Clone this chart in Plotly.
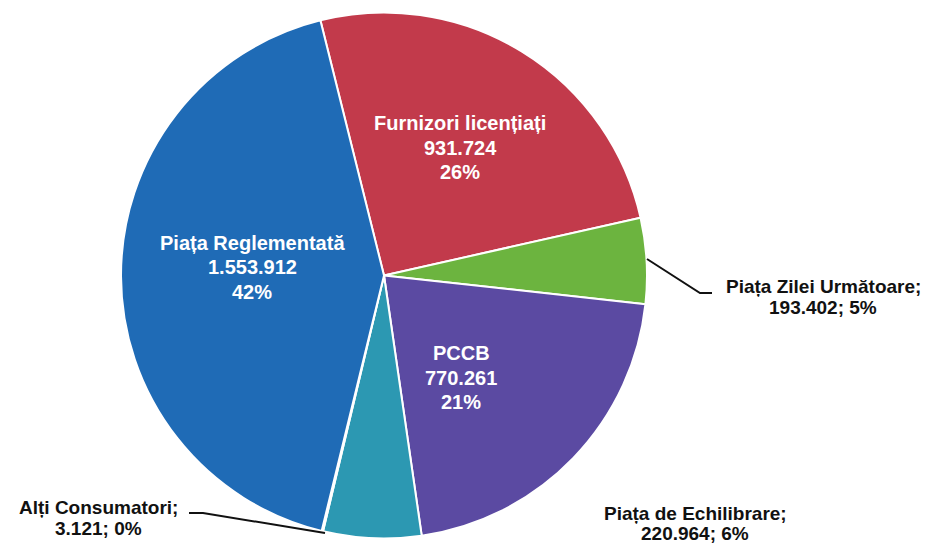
import plotly.graph_objects as go

labels = ["Furnizori licențiați", "Piața Zilei Următoare", "PCCB",
          "Piața de Echilibrare", "Alți Consumatori", "Piața Reglementată"]
values = [931724, 193402, 770261, 220964, 3121, 1553912]
pct_labels = ["26%", "5%", "21%", "6%", "0%", "42%"]
colors = ["#c23a4b", "#6cb43f", "#5b4aa2", "#2c98b2", "#e07a7a", "#1f6bb6"]

def fmt(v):
    return f"{v:,}".replace(",", ".")

val_txt = [fmt(v) for v in values]

FONT = "Liberation Sans, Arial, sans-serif"
W, H = 932, 544
CX, CY, R = 384, 275.5, 263

fig = go.Figure(go.Pie(
    labels=labels, values=values,
    textinfo="none",
    sort=False, direction="clockwise", rotation=-14,
    marker=dict(colors=colors, line=dict(color="white", width=2)),
    domain=dict(x=[(CX - R) / W, (CX + R) / W],
                y=[(H - CY - R) / H, (H - CY + R) / H]),
    showlegend=False, hoverinfo="label+value+percent",
))

def px(x, y):
    return x / W, 1 - y / H

# label layout (pixel positions of each label line centre)
inside_pos = {0: (460, [123, 148, 172]), 2: (461, [353, 378, 402]), 5: (252, [243, 267, 292])}
outside_pos = {1: (823, [286, 307]), 3: (695, [513, 533]), 4: (98, [507, 528])}

for idx, (x, ys) in inside_pos.items():
    lines = [labels[idx], val_txt[idx], pct_labels[idx]]
    for txt, yy in zip(lines, ys):
        xp, yp = px(x, yy)
        fig.add_annotation(x=xp, y=yp, xref="paper", yref="paper", showarrow=False,
                           xanchor="center", yanchor="middle", text=txt,
                           font=dict(family=FONT, size=20, color="white", weight="bold"))

for idx, (x, ys) in outside_pos.items():
    lines = [f"{labels[idx]};", f"{val_txt[idx]}; {pct_labels[idx]}"]
    for txt, yy in zip(lines, ys):
        xp, yp = px(x, yy)
        fig.add_annotation(x=xp, y=yp, xref="paper", yref="paper", showarrow=False,
                           xanchor="center", yanchor="middle", text=txt,
                           font=dict(family=FONT, size=19, color="#111111", weight="bold"))

# leader lines
def path(points):
    pts = [px(x, y) for x, y in points]
    return "M " + " L ".join(f"{a},{b}" for a, b in pts)

fig.add_shape(type="path", xref="paper", yref="paper",
              path=path([(647, 259), (700, 293), (712, 293)]),
              line=dict(color="#111111", width=2))
fig.add_shape(type="path", xref="paper", yref="paper",
              path=path([(189, 513), (203, 513), (325, 533)]),
              line=dict(color="#111111", width=2))

fig.update_layout(width=W, height=H, margin=dict(l=0, r=0, t=0, b=0),
                  paper_bgcolor="white", plot_bgcolor="white")
fig.write_html("out.html", config={"displayModeBar": False},
               post_script="document.body.style.margin='0px';")
